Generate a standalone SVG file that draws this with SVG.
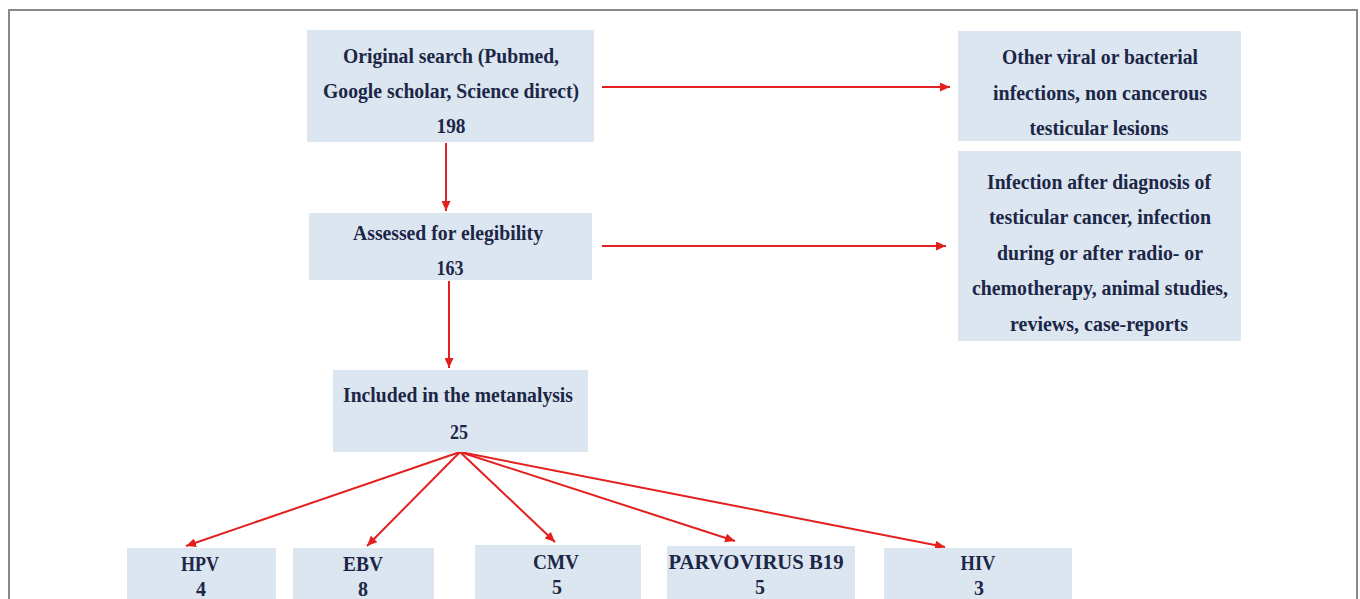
<svg xmlns="http://www.w3.org/2000/svg" width="1360" height="599" viewBox="0 0 1360 599">
<style>
.box{fill:#dce6f1;}
.t{font-family:'Liberation Serif','Times New Roman',serif;font-weight:700;font-size:20px;fill:#1c2747;text-anchor:middle;}
.c{stroke:#e3201f;stroke-width:2;fill:none;marker-end:url(#ah);}
</style>
<defs>
<marker id="ah" markerUnits="userSpaceOnUse" markerWidth="11" markerHeight="9" refX="10" refY="4.5" orient="auto">
<path d="M0,0 L10,4.5 L0,9 Z" fill="#e3201f"/>
</marker>
</defs>
<rect width="1360" height="599" fill="#ffffff"/>
<rect x="9" y="10" width="1348" height="610" fill="none" stroke="#888888" stroke-width="2"/>
<g id="connectors">
<line class="c" x1="446" y1="143" x2="446" y2="211"/>
<line class="c" x1="449" y1="281" x2="449" y2="368"/>
<line class="c" x1="602" y1="87" x2="950" y2="87"/>
<line class="c" x1="602" y1="246" x2="946" y2="246"/>
<line class="c" x1="460" y1="452" x2="186" y2="546"/>
<line class="c" x1="460" y1="452" x2="367" y2="546"/>
<line class="c" x1="460" y1="452" x2="555" y2="542"/>
<line class="c" x1="460" y1="452" x2="735" y2="541"/>
<line class="c" x1="460" y1="452" x2="945" y2="547"/>
</g>
<g id="n-original">
<rect class="box" x="307" y="30" width="287" height="112"/>
<text class="t" x="451" y="63" textLength="216" lengthAdjust="spacingAndGlyphs">Original search (Pubmed,</text>
<text class="t" x="451" y="98" textLength="256" lengthAdjust="spacingAndGlyphs">Google scholar, Science direct)</text>
<text class="t" x="451" y="133" textLength="29" lengthAdjust="spacingAndGlyphs">198</text>
</g>
<g id="n-assessed">
<rect class="box" x="309" y="213" width="283" height="67"/>
<text class="t" x="448" y="240" textLength="190" lengthAdjust="spacingAndGlyphs">Assessed for elegibility</text>
<text class="t" x="450" y="275" textLength="27" lengthAdjust="spacingAndGlyphs">163</text>
</g>
<g id="n-included">
<rect class="box" x="333" y="370" width="255" height="82"/>
<text class="t" x="458" y="402" textLength="230" lengthAdjust="spacingAndGlyphs">Included in the metanalysis</text>
<text class="t" x="459" y="439" textLength="18" lengthAdjust="spacingAndGlyphs">25</text>
</g>
<g id="n-other">
<rect class="box" x="958" y="31" width="283" height="110"/>
<text class="t" x="1100" y="64" textLength="196" lengthAdjust="spacingAndGlyphs">Other viral or bacterial</text>
<text class="t" x="1100" y="100" textLength="214" lengthAdjust="spacingAndGlyphs">infections, non cancerous</text>
<text class="t" x="1099" y="135" textLength="139" lengthAdjust="spacingAndGlyphs">testicular lesions</text>
</g>
<g id="n-excluded">
<rect class="box" x="958" y="151" width="283" height="190"/>
<text class="t" x="1099" y="189" textLength="224" lengthAdjust="spacingAndGlyphs">Infection after diagnosis of</text>
<text class="t" x="1100" y="224" textLength="222" lengthAdjust="spacingAndGlyphs">testicular  cancer, infection</text>
<text class="t" x="1100" y="260" textLength="206" lengthAdjust="spacingAndGlyphs">during or after radio- or</text>
<text class="t" x="1100" y="295" textLength="256" lengthAdjust="spacingAndGlyphs">chemotherapy, animal studies,</text>
<text class="t" x="1099" y="331" textLength="178" lengthAdjust="spacingAndGlyphs">reviews, case-reports</text>
</g>
<g id="n-hpv">
<rect class="box" x="127" y="548" width="149" height="70"/>
<text class="t" x="200" y="571" textLength="38" lengthAdjust="spacingAndGlyphs">HPV</text>
<text class="t" x="201" y="596">4</text>
</g>
<g id="n-ebv">
<rect class="box" x="293" y="548" width="141" height="70"/>
<text class="t" x="363" y="571" textLength="40" lengthAdjust="spacingAndGlyphs">EBV</text>
<text class="t" x="363" y="596">8</text>
</g>
<g id="n-cmv">
<rect class="box" x="475" y="545" width="166" height="73"/>
<text class="t" x="556" y="569" textLength="46" lengthAdjust="spacingAndGlyphs">CMV</text>
<text class="t" x="557" y="594">5</text>
</g>
<g id="n-parvo">
<rect class="box" x="667" y="546" width="188" height="72"/>
<text class="t" x="756" y="569" textLength="175" lengthAdjust="spacingAndGlyphs">PARVOVIRUS B19</text>
<text class="t" x="760" y="594">5</text>
</g>
<g id="n-hiv">
<rect class="box" x="884" y="548" width="188" height="70"/>
<text class="t" x="978" y="570" textLength="35" lengthAdjust="spacingAndGlyphs">HIV</text>
<text class="t" x="979" y="595">3</text>
</g>
</svg>
